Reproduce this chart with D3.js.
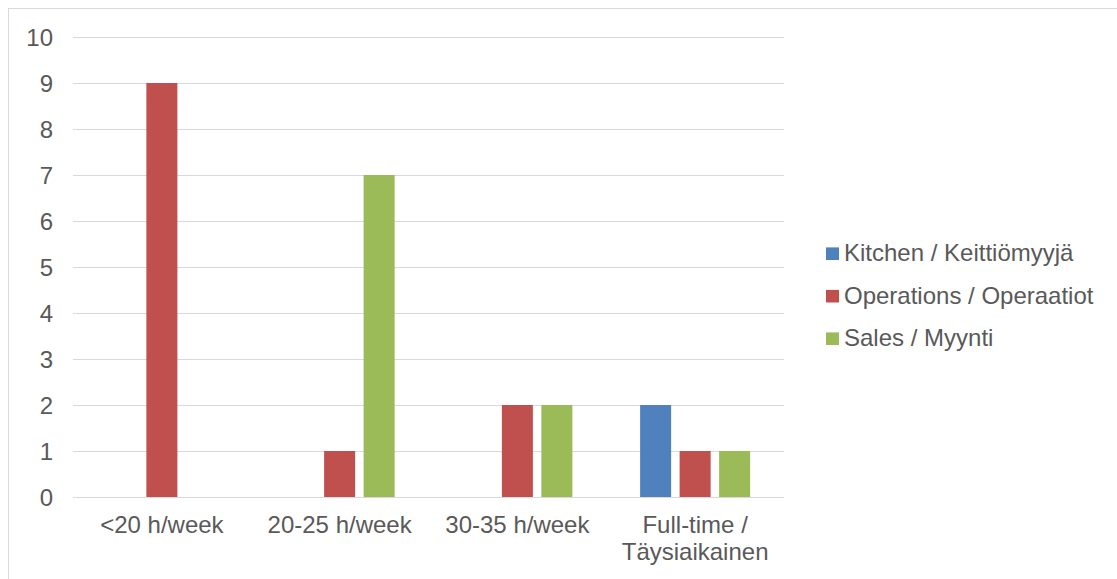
<!DOCTYPE html>
<html>
<head>
<meta charset="utf-8">
<script src="https://cdn.jsdelivr.net/npm/d3@7"></script>
<style>
  html, body { margin: 0; padding: 0; background: #ffffff; }
  svg { display: block; font-family: "Liberation Sans", Arial, sans-serif; }
</style>
</head>
<body>
<svg id="chart" width="1117" height="579"></svg>
<script>
// Working-hours categories and headcount per department
const categories = ["<20 h/week", "20-25 h/week", "30-35 h/week", "Full-time / Täysiaikainen"];
const categoryLines = [["<20 h/week"], ["20-25 h/week"], ["30-35 h/week"], ["Full-time /", "Täysiaikainen"]];
const seriesNames = ["Kitchen / Keittiömyyjä", "Operations / Operaatiot", "Sales / Myynti"];
const kitchen = [0, 0, 0, 2];
const operations = [9, 1, 2, 1];
const sales = [0, 7, 2, 1];
const yTicks = [0, 1, 2, 3, 4, 5, 6, 7, 8, 9, 10];
const colors = ["#4f81bd", "#c0504d", "#9bbb59"];

const seriesValues = [kitchen, operations, sales];

const svg = d3.select("#chart");
const plot = { left: 73, right: 784, top: 37, bottom: 497 };
const textColor = "#595959";
const fontSize = 24;

// Outer chart frame
svg.append("rect")
  .attr("x", 8.5).attr("y", 8.5)
  .attr("width", 1130).attr("height", 600)
  .attr("fill", "none").attr("stroke", "#d9d9d9").attr("stroke-width", 1);

const y = d3.scaleLinear().domain([0, 10]).range([plot.bottom, plot.top]);

const x0 = d3.scaleBand().domain(categories)
  .range([plot.left, plot.right])
  .paddingInner(0.381).paddingOuter(0.1905);

const x1 = d3.scaleBand().domain(seriesNames)
  .range([0, x0.bandwidth()])
  .paddingInner(0.215).paddingOuter(0);

// Horizontal gridlines
svg.append("g").selectAll("line").data(yTicks).join("line")
  .attr("x1", plot.left).attr("x2", plot.right)
  .attr("y1", d => Math.round(y(d)) + 0.5).attr("y2", d => Math.round(y(d)) + 0.5)
  .attr("stroke", "#d9d9d9").attr("stroke-width", 1);

// Y axis tick labels
const yAxis = d3.axisLeft(y).tickValues(yTicks).tickSize(0).tickPadding(0).tickFormat(d3.format("d"));
const yG = svg.append("g").attr("transform", `translate(${53},0)`).call(yAxis);
yG.select(".domain").remove();
yG.selectAll("text")
  .attr("fill", textColor).attr("font-size", fontSize)
  .attr("font-family", "Liberation Sans, Arial, sans-serif")
  .attr("dy", "0.35em");

// Bars
const rows = categories.map((c, i) => ({ cat: c, vals: seriesValues.map((s, k) => ({ name: seriesNames[k], v: s[i], k })) }));
svg.append("g").selectAll("g").data(rows).join("g")
  .attr("transform", d => `translate(${x0(d.cat)},0)`)
  .selectAll("rect").data(d => d.vals.filter(e => e.v > 0)).join("rect")
  .attr("x", d => x1(d.name))
  .attr("width", x1.bandwidth())
  .attr("y", d => y(d.v))
  .attr("height", d => y(0) - y(d.v))
  .attr("fill", d => colors[d.k]);

// X category labels (wrapped)
const xG = svg.append("g");
categories.forEach((c, i) => {
  const cx = x0(c) + x0.bandwidth() / 2;
  const t = xG.append("text")
    .attr("text-anchor", "middle")
    .attr("fill", textColor).attr("font-size", fontSize);
  categoryLines[i].forEach((line, j) => {
    t.append("tspan").attr("x", cx).attr("y", 533 + j * 26.7).text(line);
  });
});

// Legend
const legend = svg.append("g").attr("transform", "translate(826,0)");
seriesNames.forEach((name, k) => {
  const cy = 253.7 + k * 42.5;
  legend.append("rect").attr("x", 0).attr("y", cy - 6.3).attr("width", 13).attr("height", 12.6).attr("fill", colors[k]);
  legend.append("text").attr("x", 18).attr("y", cy + 7.5)
    .attr("fill", textColor).attr("font-size", fontSize).text(name);
});
</script>
</body>
</html>
